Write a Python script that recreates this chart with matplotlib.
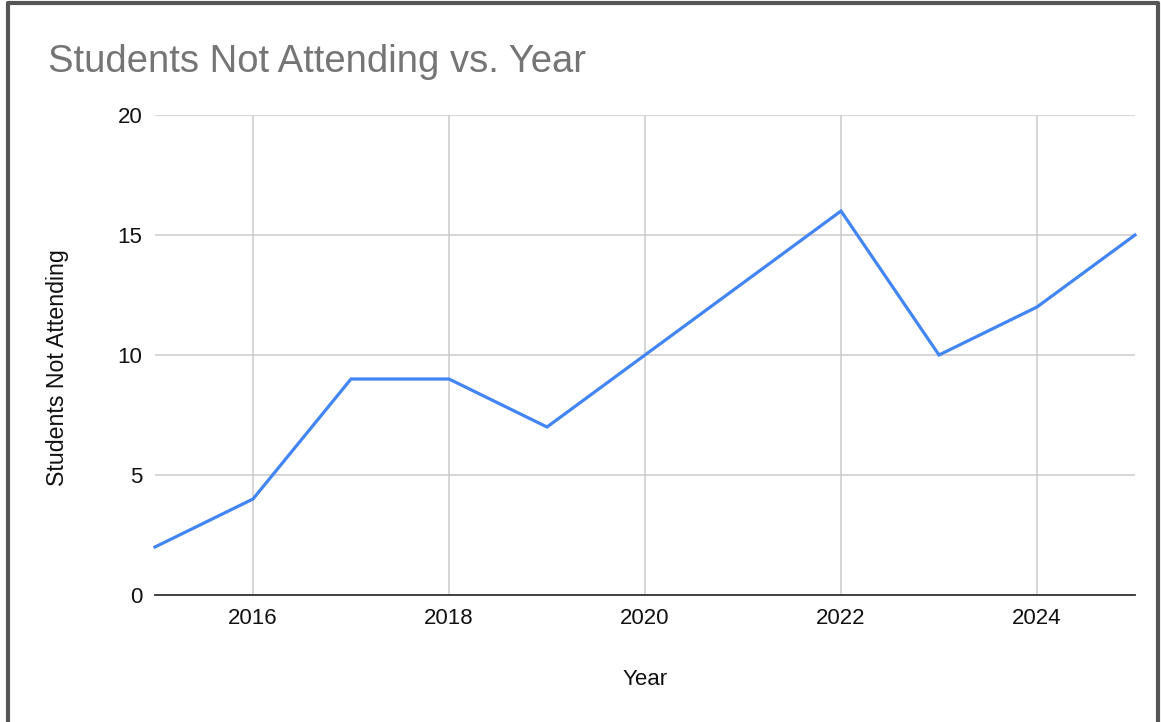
import matplotlib.pyplot as plt

years = [2015, 2016, 2017, 2018, 2019, 2020, 2021, 2022, 2023, 2024, 2025]
not_attending = [2, 4, 9, 9, 7, 10, 13, 16, 10, 12, 15]
x_ticks = [2016, 2018, 2020, 2022, 2024]
y_ticks = [0, 5, 10, 15, 20]

plt.rcParams['font.family'] = ['Liberation Sans', 'DejaVu Sans']

fig = plt.figure(figsize=(11.61, 7.22), dpi=100)
W, H = 1161, 722
ax = fig.add_axes([155 / W, 1 - 595 / H, 980 / W, 480 / H])

ax.plot(years, not_attending, color='#4285F4', linewidth=2.3, solid_joinstyle='miter', zorder=3, clip_on=False)

ax.set_xlim(2015, 2025)
ax.set_ylim(0, 20)
ax.set_xticks(x_ticks)
ax.set_yticks(y_ticks)
ax.grid(True, color='#cccccc', linewidth=1.1)
ax.set_axisbelow(True)

for side in ['top', 'right', 'left']:
    ax.spines[side].set_visible(False)
ax.spines['bottom'].set_color('#333333')
ax.spines['bottom'].set_linewidth(1.3)
ax.spines['bottom'].set_zorder(2)

ax.tick_params(axis='both', length=0, labelsize=16, colors='#111111')
ax.tick_params(axis='x', pad=9)
ax.tick_params(axis='y', pad=9)

ax.set_xlabel('Year', fontsize=16, color='#111111', labelpad=29)
ax.set_ylabel('Students Not Attending', fontsize=16.7, color='#111111')
ax.yaxis.set_label_coords(-0.088, 0.473)

fig.text(48 / W, 1 - 62 / H, 'Students Not Attending vs. Year', fontsize=27.5,
         color='#757575', va='center', ha='left')

# frame around the chart (open at the bottom)
fig.add_artist(plt.Line2D([8 / W, 8 / W, 1158 / W, 1158 / W], [0, 1 - 3 / H, 1 - 3 / H, 0],
                          transform=fig.transFigure, color='#555555', linewidth=3))

fig.savefig('out.png', dpi=100, facecolor='white')
